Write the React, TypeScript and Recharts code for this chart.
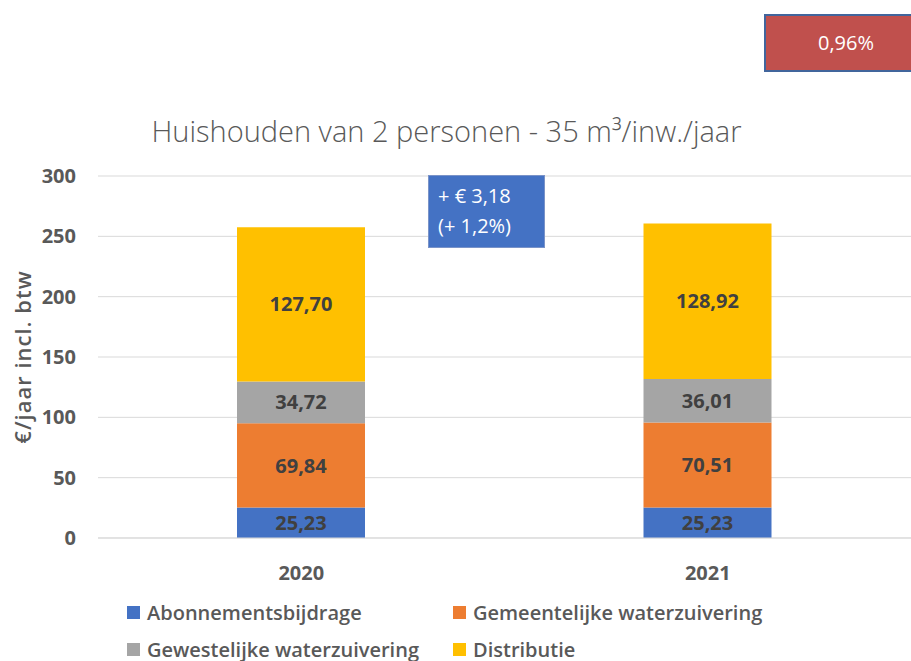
import React from 'react';
import { BarChart, Bar, XAxis, YAxis, CartesianGrid, LabelList, Legend } from 'recharts';

const years = ['2020', '2021'];
const abonnement = [25.23, 25.23];
const gemeentelijk = [69.84, 70.51];
const gewestelijk = [34.72, 36.01];
const distributie = [127.7, 128.92];
const yTicks = [0, 50, 100, 150, 200, 250, 300];

const series = [
  { key: 'abonnement', name: 'Abonnementsbijdrage', color: '#4472C4', values: abonnement },
  { key: 'gemeentelijk', name: 'Gemeentelijke waterzuivering', color: '#ED7D31', values: gemeentelijk },
  { key: 'gewestelijk', name: 'Gewestelijke waterzuivering', color: '#A5A5A5', values: gewestelijk },
  { key: 'distributie', name: 'Distributie', color: '#FFC000', values: distributie },
];

const data = years.map((year, i) => {
  const row: Record<string, any> = { year };
  series.forEach((s) => (row[s.key] = s.values[i]));
  return row;
});

const FONT = "'Open Sans', sans-serif";
const fmt = (v: number) => v.toFixed(2).replace('.', ',');

const LegendContent = () => (
  <div
    style={{
      display: 'grid',
      gridTemplateColumns: '326px 330px',
      rowGap: 8,
      paddingLeft: 127,
      fontFamily: FONT,
      fontSize: 20,
      fontWeight: 600,
      lineHeight: '29px',
      color: '#595959',
    }}
  >
    {series.map((s) => (
      <div key={s.key} style={{ display: 'flex', alignItems: 'center', whiteSpace: 'nowrap' }}>
        <span style={{ width: 13, height: 13, background: s.color, marginRight: 7, display: 'inline-block' }} />
        {s.name}
      </div>
    ))}
  </div>
);

export default function App() {
  return (
    <div style={{ position: 'absolute', left: 0, top: 0, width: 911, height: 661, overflow: 'hidden', background: '#fff' }}>
      <BarChart width={911} height={661} data={data} margin={{ top: 176, right: 0, bottom: 93, left: 0 }}>
        <CartesianGrid vertical={false} stroke="#D9D9D9" />
        <XAxis
          dataKey="year"
          axisLine={{ stroke: '#D9D9D9' }}
          tickLine={false}
          tickMargin={22}
          tick={{ fontFamily: FONT, fontSize: 20, fontWeight: 'bold', fill: '#595959' }}
        />
        <YAxis
          width={98}
          domain={[0, 300]}
          ticks={yTicks}
          axisLine={false}
          tickLine={false}
          tickMargin={16}
          tick={{ fontFamily: FONT, fontSize: 20, fontWeight: 'bold', fill: '#595959' }}
          label={{
            value: '€/jaar incl. btw',
            angle: -90,
            position: 'insideLeft',
            offset: 23,
            style: {
              textAnchor: 'middle',
              fontFamily: FONT,
              fontSize: 22,
              fontWeight: 600,
              letterSpacing: 1,
              fill: '#595959',
            },
          }}
        />
        <Legend
          layout="horizontal"
          verticalAlign="middle"
          align="center"
          wrapperStyle={{ top: 598, left: 0, width: 911 }}
          content={<LegendContent />}
        />
        {series.map((s) => (
          <Bar key={s.key} dataKey={s.key} name={s.name} stackId="a" fill={s.color} barSize={128} isAnimationActive={false}>
            <LabelList
              dataKey={s.key}
              position="center"
              formatter={(v: any) => fmt(Number(v))}
              style={{ fontFamily: FONT, fontSize: 20, fontWeight: 'bold', fill: '#404040' }}
            />
          </Bar>
        ))}
      </BarChart>
      <div
        style={{
          position: 'absolute',
          left: 0,
          width: 893,
          top: 111,
          textAlign: 'center',
          fontFamily: FONT,
          fontSize: 29,
          fontWeight: 300,
          color: '#595959',
          whiteSpace: 'nowrap',
        }}
      >
        Huishouden van 2 personen - 35 m³/inw./jaar
      </div>
      <div
        style={{
          position: 'absolute',
          left: 428,
          top: 175,
          width: 117,
          height: 73,
          boxSizing: 'border-box',
          background: '#4472C4',
          border: '1px solid #7a93c8',
          color: '#fff',
          fontFamily: FONT,
          fontSize: 20,
          lineHeight: '30px',
          padding: '5px 0 0 9px',
          whiteSpace: 'nowrap',
        }}
      >
        + € 3,18
        <br />
        (+ 1,2%)
      </div>
      <div
        style={{
          position: 'absolute',
          left: 764,
          top: 14,
          width: 170,
          height: 58,
          boxSizing: 'border-box',
          background: '#C0504D',
          border: '2px solid #41659c',
          color: '#fff',
          fontFamily: FONT,
          fontSize: 20,
          lineHeight: '54px',
          paddingLeft: 52,
        }}
      >
        0,96%
      </div>
    </div>
  );
}
